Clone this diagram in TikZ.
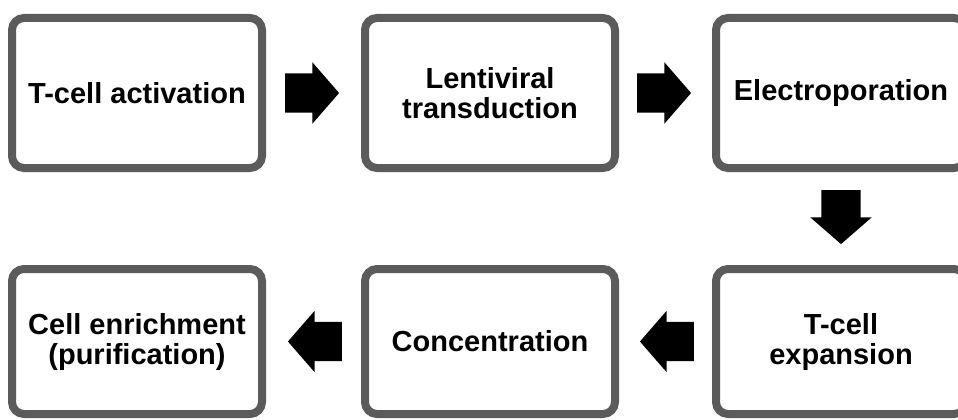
\documentclass[tikz,border=0pt]{standalone}
\usepackage{fontspec}
\setmainfont{Liberation Sans}
\usetikzlibrary{shapes.arrows}
\definecolor{boxgray}{HTML}{5B5B5B}

\begin{document}
\begin{tikzpicture}[
  x=1pt, y=-1pt,
  stepbox/.style={rectangle, rounded corners=12pt, draw=boxgray, line width=8pt, fill=white, minimum width=250pt, minimum height=150pt, align=center, font=\fontsize{29}{30}\selectfont\bfseries},
  lowbox/.style={stepbox, minimum height=145pt},
  blockarrow/.style={single arrow, fill=black, draw=none, inner xsep=0pt, inner ysep=19.5pt, minimum height=54pt, single arrow head extend=11pt, single arrow tip angle=98, sloped, allow upside down, xshift=-10pt},
  ]
\useasboundingbox (0,0) rectangle (958,420);
\clip (0,0) rectangle (958,420);

\node[stepbox] (act) at (137,93) {T-cell activation};
\node[stepbox] (lenti) at (490,93) {Lentiviral\\transduction};
\node[stepbox] (elec) at (841,93) {Electroporation};

\node[lowbox] (expa) at (841,341.5) {T-cell\\expansion};
\node[lowbox] (conc) at (490,341.5) {Concentration};
\node[lowbox] (enrich) at (137,341.5) {Cell enrichment\\(purification)};

\path (act) -- node[blockarrow] {} (lenti);
\path (lenti) -- node[blockarrow] {} (elec);
\path (elec) -- node[blockarrow] {} (expa);
\path (expa) -- node[blockarrow] {} (conc);
\path (conc) -- node[blockarrow] {} (enrich);

\end{tikzpicture}
\end{document}
